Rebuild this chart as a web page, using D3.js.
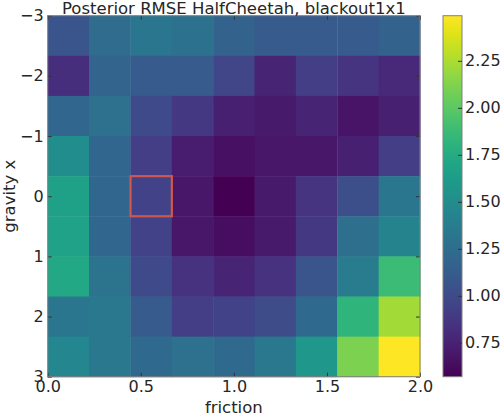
<!DOCTYPE html>
<html>
<head>
<meta charset="utf-8">
<script src="https://cdn.jsdelivr.net/npm/d3@7"></script>
<style>
  body { margin: 0; background: #fff; }
  text { font-family: "DejaVu Sans", sans-serif; fill: #262626; }
</style>
</head>
<body>
<svg id="chart" width="501" height="416"></svg>
<script>
// grid cell centres
var friction = [0.111, 0.333, 0.556, 0.778, 1.0, 1.222, 1.444, 1.667, 1.889];
var gravity = [-2.667, -2, -1.333, -0.667, 0, 0.667, 1.333, 2, 2.667];

// posterior RMSE, one row per gravity value
var rmse = [
  [1.07, 1.24, 1.32, 1.29, 1.17, 1.11, 1.11, 1.11, 1.17],
  [0.82, 1.18, 1.11, 1.11, 0.97, 0.76, 0.92, 0.86, 0.78],
  [1.20, 1.28, 1.00, 0.88, 0.74, 0.70, 0.76, 0.67, 0.74],
  [1.51, 1.20, 0.92, 0.72, 0.65, 0.69, 0.69, 0.74, 0.92],
  [1.67, 1.20, 0.95, 0.69, 0.57, 0.70, 0.86, 1.03, 1.32],
  [1.68, 1.20, 0.95, 0.69, 0.63, 0.70, 0.88, 1.26, 1.43],
  [1.72, 1.30, 1.00, 0.84, 0.76, 0.84, 1.07, 1.36, 1.88],
  [1.32, 1.34, 1.11, 0.92, 0.95, 1.01, 1.22, 1.82, 2.22],
  [1.45, 1.34, 1.22, 1.28, 1.22, 1.34, 1.59, 2.11, 2.49]
];

// highlighted cell (training setting)
var marked = { friction: 0.556, gravity: 0 };

var xTicks = [0, 0.5, 1.0, 1.5, 2.0];
var yTicks = [-3, -2, -1, 0, 1, 2, 3];
var cbTicks = [0.75, 1.0, 1.25, 1.5, 1.75, 2.0, 2.25];
var vMin = 0.57, vMax = 2.49;

(function () {
  var svg = d3.select('#chart');
  var pL = 47.7, pR = 420, pT = 15.7, pB = 376.7;
  var cellW = 2 / 9, cellH = 6 / 9;

  var xScale = d3.scaleLinear().domain([0, 2]).range([pL, pR]);
  var yScale = d3.scaleLinear().domain([-3, 3]).range([pT, pB]);
  var color = d3.scaleSequential(d3.interpolateViridis).domain([vMin, vMax]);

  var cells = [];
  rmse.forEach(function (row, i) {
    row.forEach(function (v, j) {
      cells.push({ f: friction[j], g: gravity[i], v: v });
    });
  });

  svg.append('g').selectAll('rect')
    .data(cells)
    .enter().append('rect')
    .attr('x', function (d) { return xScale(d.f - cellW / 2); })
    .attr('y', function (d) { return yScale(d.g - cellH / 2); })
    .attr('width', xScale(cellW) - xScale(0) + 0.5)
    .attr('height', yScale(cellH) - yScale(0) + 0.5)
    .attr('fill', function (d) { return color(d.v); });

  svg.append('rect')
    .attr('x', xScale(marked.friction - cellW / 2))
    .attr('y', yScale(marked.gravity - cellH / 2))
    .attr('width', xScale(cellW) - xScale(0))
    .attr('height', yScale(cellH) - yScale(0))
    .attr('fill', 'none')
    .attr('stroke', '#cf574d')
    .attr('stroke-width', 2.2);

  // axes, matplotlib classic style: inward ticks on all sides
  function styleAxis(g) {
    g.select('.domain').remove();
    g.selectAll('.tick line').attr('stroke', '#333');
    g.selectAll('.tick text').attr('fill', '#262626')
      .style('font-family', '"DejaVu Sans", sans-serif').style('font-size', '16px');
  }

  svg.append('g')
    .attr('transform', 'translate(0,' + pB + ')')
    .call(d3.axisBottom(xScale).tickValues(xTicks).tickFormat(d3.format('.1f'))
      .tickSizeInner(-4).tickSizeOuter(0).tickPadding(4))
    .call(styleAxis);
  svg.append('g')
    .attr('transform', 'translate(0,' + pT + ')')
    .call(d3.axisTop(xScale).tickValues(xTicks).tickSizeInner(-4).tickSizeOuter(0).tickFormat(''))
    .call(styleAxis);
  svg.append('g')
    .attr('transform', 'translate(' + pL + ',0)')
    .call(d3.axisLeft(yScale).tickValues(yTicks).tickFormat(d3.format('d'))
      .tickSizeInner(-4).tickSizeOuter(0).tickPadding(4))
    .call(styleAxis);
  svg.append('g')
    .attr('transform', 'translate(' + pR + ',0)')
    .call(d3.axisRight(yScale).tickValues(yTicks).tickSizeInner(-4).tickSizeOuter(0).tickFormat(''))
    .call(styleAxis);

  svg.append('rect')
    .attr('x', pL).attr('y', pT)
    .attr('width', pR - pL).attr('height', pB - pT)
    .attr('fill', 'none').attr('stroke', '#808080').attr('stroke-width', 1);

  svg.append('text')
    .attr('x', (pL + pR) / 2).attr('y', 13.5)
    .attr('text-anchor', 'middle').style('font-size', '16.5px')
    .text('Posterior RMSE HalfCheetah, blackout1x1');

  svg.append('text')
    .attr('x', (pL + pR) / 2).attr('y', 413)
    .attr('text-anchor', 'middle').style('font-size', '16.5px')
    .text('friction');

  svg.append('text')
    .attr('transform', 'translate(15,' + (pT + pB) / 2 + ') rotate(-90)')
    .attr('text-anchor', 'middle').style('font-size', '16.5px')
    .text('gravity x');

  // colorbar
  var cbLeft = 443, cbRight = 462;
  var cbScale = d3.scaleLinear().domain([vMin, vMax]).range([pB, pT]);
  var grad = svg.append('defs').append('linearGradient').attr('id', 'cbgrad')
    .attr('x1', 0).attr('y1', 1).attr('x2', 0).attr('y2', 0);
  d3.range(0, 1.0001, 0.05).forEach(function (t) {
    grad.append('stop').attr('offset', t).attr('stop-color', d3.interpolateViridis(t));
  });
  svg.append('rect')
    .attr('x', cbLeft).attr('y', cbScale(vMax))
    .attr('width', cbRight - cbLeft).attr('height', cbScale(vMin) - cbScale(vMax))
    .attr('fill', 'url(#cbgrad)')
    .attr('stroke', '#808080').attr('stroke-width', 1);

  svg.append('g')
    .attr('transform', 'translate(' + cbRight + ',0)')
    .call(d3.axisRight(cbScale).tickValues(cbTicks).tickFormat(d3.format('.2f'))
      .tickSizeInner(-4).tickSizeOuter(0).tickPadding(3))
    .call(styleAxis);
})();
</script>
</body>
</html>
